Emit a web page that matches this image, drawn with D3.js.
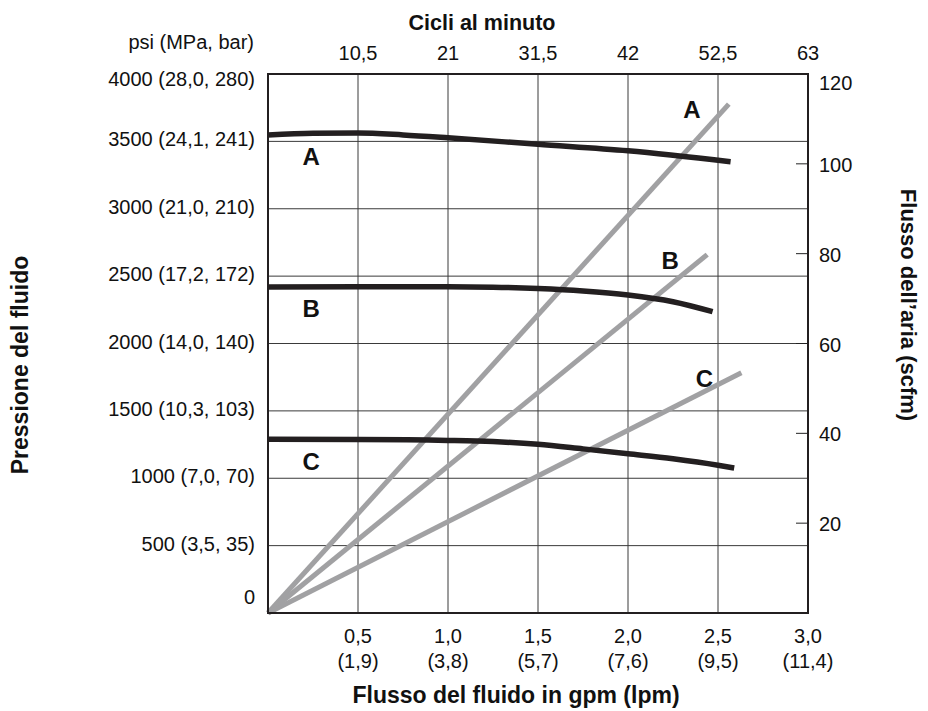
<!DOCTYPE html>
<html>
<head>
<meta charset="utf-8">
<script src="https://cdn.jsdelivr.net/npm/d3@7"></script>
<style>
  body { margin: 0; background: #fff; }
  svg text { font-family: "Liberation Sans", Arial, Helvetica, sans-serif; fill: #111; }
  .tick-label { font-size: 20px; }
  .axis-title { font-size: 23px; font-weight: bold; }
  .series-label { font-size: 24px; font-weight: bold; }
</style>
</head>
<body>
<div id="chart"></div>
<script>
// bottom axis: fluid flow, gpm with lpm underneath
var gpmTicks = [0.5, 1.0, 1.5, 2.0, 2.5, 3.0];
var gpmLabels = ['0,5', '1,0', '1,5', '2,0', '2,5', '3,0'];
var lpmLabels = ['(1,9)', '(3,8)', '(5,7)', '(7,6)', '(9,5)', '(11,4)'];

// top axis: cycles per minute
var cycleTicks = [10.5, 21, 31.5, 42, 52.5, 63];
var cycleLabels = ['10,5', '21', '31,5', '42', '52,5', '63'];

// left axis: fluid pressure
var psiTicks = [0, 500, 1000, 1500, 2000, 2500, 3000, 3500, 4000];
var psiLabels = ['0', '500 (3,5, 35)', '1000 (7,0, 70)', '1500 (10,3, 103)', '2000 (14,0, 140)',
  '2500 (17,2, 172)', '3000 (21,0, 210)', '3500 (24,1, 241)', '4000 (28,0, 280)'];

// right axis: air flow
var scfmTicks = [20, 40, 60, 80, 100, 120];

// fluid pressure curves [gpm, psi]
var pressureA = [[0, 3547], [0.25, 3560], [0.5, 3562], [0.75, 3548], [1.0, 3527], [1.5, 3478], [2.0, 3430], [2.57, 3349]];
var pressureB = [[0, 2420], [0.5, 2422], [1.0, 2421], [1.25, 2418], [1.5, 2408], [1.75, 2390], [2.0, 2360], [2.25, 2310], [2.47, 2236]];
var pressureC = [[0, 1289], [0.5, 1288], [1.0, 1281], [1.25, 1272], [1.5, 1252], [1.75, 1218], [2.0, 1182], [2.25, 1145], [2.5, 1097], [2.59, 1076]];

// air flow lines [gpm, scfm]
var airA = [[0, 0], [2.56, 113.3]];
var airB = [[0, 0], [2.44, 79.8]];
var airC = [[0, 0], [2.63, 53.5]];

var pressureSeries = [
  { name: 'A', values: pressureA },
  { name: 'B', values: pressureB },
  { name: 'C', values: pressureC }
];
var airSeries = [
  { name: 'A', values: airA },
  { name: 'B', values: airB },
  { name: 'C', values: airC }
];

var W = 928, H = 711;
var margin = { top: 74, right: 120, bottom: 98, left: 268 };
var width = W - margin.left - margin.right,
    height = H - margin.top - margin.bottom;

var x = d3.scaleLinear().domain([0, 3]).range([0, width]);
var xTop = d3.scaleLinear().domain([0, 63]).range([0, width]);
var y = d3.scaleLinear().domain([0, 4000]).range([height, 0]);
var yR = d3.scaleLinear().domain([0, 120]).range([height, 0]);

var svg = d3.select('#chart').append('svg')
    .attr('width', W)
    .attr('height', H);

var g = svg.append('g')
    .attr('transform', 'translate(' + margin.left + ',' + margin.top + ')');

// grid
g.append('g').attr('class', 'grid')
  .selectAll('line.h')
  .data(psiTicks.slice(1, -1))
  .enter().append('line')
    .attr('x1', 0).attr('x2', width)
    .attr('y1', function(d) { return y(d); })
    .attr('y2', function(d) { return y(d); })
    .attr('stroke', '#3a3a3a').attr('stroke-width', 1);

g.append('g').attr('class', 'grid')
  .selectAll('line.v')
  .data(gpmTicks.slice(0, -1))
  .enter().append('line')
    .attr('y1', 0).attr('y2', height)
    .attr('x1', function(d) { return x(d); })
    .attr('x2', function(d) { return x(d); })
    .attr('stroke', '#3a3a3a').attr('stroke-width', 1);

// right axis inner ticks
g.append('g')
  .selectAll('line')
  .data(scfmTicks.slice(0, -1))
  .enter().append('line')
    .attr('x1', width - 12).attr('x2', width)
    .attr('y1', function(d) { return yR(d); })
    .attr('y2', function(d) { return yR(d); })
    .attr('stroke', '#222').attr('stroke-width', 1);

// air flow (grey) lines
var airLine = d3.line()
    .x(function(d) { return x(d[0]); })
    .y(function(d) { return yR(d[1]); });

g.append('g')
  .selectAll('path')
  .data(airSeries)
  .enter().append('path')
    .attr('d', function(d) { return airLine(d.values); })
    .attr('fill', 'none')
    .attr('stroke', '#a1a1a3')
    .attr('stroke-width', 5);

// pressure (black) curves
var pressLine = d3.line()
    .curve(d3.curveMonotoneX)
    .x(function(d) { return x(d[0]); })
    .y(function(d) { return y(d[1]); });

g.append('g')
  .selectAll('path')
  .data(pressureSeries)
  .enter().append('path')
    .attr('d', function(d) { return pressLine(d.values); })
    .attr('fill', 'none')
    .attr('stroke', '#231f20')
    .attr('stroke-width', 5.5);

// frame
g.append('rect')
  .attr('x', 0).attr('y', 0)
  .attr('width', width).attr('height', height)
  .attr('fill', 'none')
  .attr('stroke', '#231f20')
  .attr('stroke-width', 2);

// series labels
g.append('g')
  .selectAll('text')
  .data(pressureSeries)
  .enter().append('text')
    .attr('class', 'series-label')
    .attr('text-anchor', 'middle')
    .attr('dy', '0.35em')
    .attr('x', x(0.24))
    .attr('y', function(d) { return y(d.values[0][1]) + 22; })
    .text(function(d) { return d.name; });

g.append('g')
  .selectAll('text')
  .data(airSeries)
  .enter().append('text')
    .attr('class', 'series-label')
    .attr('text-anchor', 'middle')
    .attr('dy', '0.35em')
    .attr('x', function(d) { var e = d.values[d.values.length - 1]; return x(e[0]) - 37; })
    .attr('y', function(d) { var e = d.values[d.values.length - 1]; return yR(e[1]) + 6; })
    .text(function(d) { return d.name; });

// left tick labels
g.append('g')
  .selectAll('text')
  .data(psiTicks)
  .enter().append('text')
    .attr('class', 'tick-label')
    .attr('text-anchor', 'end')
    .attr('x', -13)
    .attr('y', function(d) { return y(d) + (d === 0 ? -16 : d === 4000 ? 5 : -2); })
    .attr('dy', '0.35em')
    .text(function(d, i) { return psiLabels[i]; });

g.append('text')
  .attr('class', 'tick-label')
  .attr('text-anchor', 'end')
  .attr('x', -14).attr('y', -32).attr('dy', '0.35em')
  .text('psi (MPa, bar)');

// right tick labels
g.append('g')
  .selectAll('text')
  .data(scfmTicks)
  .enter().append('text')
    .attr('class', 'tick-label')
    .attr('x', width + 11)
    .attr('y', function(d) { return yR(d) + (d === 120 ? 9 : 1); })
    .attr('dy', '0.35em')
    .text(function(d) { return d; });

// top tick labels
g.append('g')
  .selectAll('text')
  .data(cycleTicks)
  .enter().append('text')
    .attr('class', 'tick-label')
    .attr('text-anchor', 'middle')
    .attr('x', function(d) { return xTop(d); })
    .attr('y', -21)
    .attr('dy', '0.35em')
    .text(function(d, i) { return cycleLabels[i]; });

// bottom tick labels, two lines
var bottomTicks = g.append('g')
  .selectAll('text')
  .data(gpmTicks)
  .enter().append('text')
    .attr('class', 'tick-label')
    .attr('text-anchor', 'middle')
    .attr('y', height + 23);

bottomTicks.append('tspan')
  .attr('x', function(d) { return x(d); })
  .attr('dy', '0.35em')
  .text(function(d, i) { return gpmLabels[i]; });
bottomTicks.append('tspan')
  .attr('x', function(d) { return x(d); })
  .attr('dy', '1.25em')
  .text(function(d, i) { return lpmLabels[i]; });

// axis titles
svg.append('text')
  .attr('class', 'axis-title')
  .attr('text-anchor', 'middle')
  .style('font-size', '21.5px')
  .attr('x', 482).attr('y', 22).attr('dy', '0.35em')
  .text('Cicli al minuto');

svg.append('text')
  .attr('class', 'axis-title')
  .attr('text-anchor', 'middle')
  .attr('x', 516).attr('y', 695).attr('dy', '0.35em')
  .text('Flusso del fluido in gpm (lpm)');

svg.append('text')
  .attr('class', 'axis-title')
  .attr('text-anchor', 'middle')
  .attr('transform', 'translate(20,365)rotate(-90)')
  .attr('dy', '0.35em')
  .text('Pressione del fluido');

svg.append('text')
  .attr('class', 'axis-title')
  .attr('text-anchor', 'middle')
  .style('font-size', '22px')
  .attr('transform', 'translate(909,305)rotate(90)')
  .attr('dy', '0.35em')
  .text('Flusso dell\u2019aria (scfm)');
</script>
</body>
</html>
